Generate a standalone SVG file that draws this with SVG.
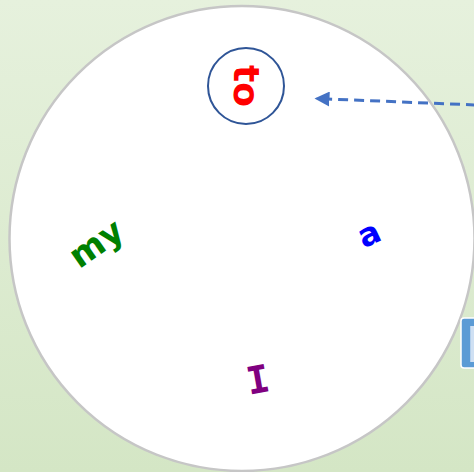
<svg xmlns="http://www.w3.org/2000/svg" width="474" height="472" viewBox="0 0 474 472">
<defs>
<linearGradient id="bg" x1="0" y1="0" x2="0" y2="1">
<stop offset="0" stop-color="#e6f1dd"/>
<stop offset="1" stop-color="#d4e6c5"/>
</linearGradient>
<marker id="ah" viewBox="0 0 10 10" refX="9" refY="5" markerWidth="5" markerHeight="5" orient="auto" markerUnits="strokeWidth">
<path d="M0,0 L10,5 L0,10 Z" fill="#4472c4"/>
</marker>
</defs>
<style>
.lbl{font-family:"DejaVu Sans","Liberation Sans",sans-serif;font-weight:bold;text-anchor:middle;dominant-baseline:central}
</style>
<rect width="474" height="472" fill="url(#bg)"/>
<g id="big-circle">
<circle cx="242" cy="238.5" r="232.5" fill="#ffffff" stroke="#c6c6c6" stroke-width="2.5"/>
</g>
<g id="side-node">
<rect x="461" y="318" width="30" height="50" rx="3" fill="#5b9bd5" stroke="#ffffff" stroke-width="1.5"/>
<text x="466" y="362" font-family="Liberation Sans,sans-serif" font-size="52" fill="#cfe0f3">N</text>
</g>
<g id="connectors">
<line x1="476" y1="105" x2="316" y2="98.5" stroke="#4472c4" stroke-width="3" stroke-dasharray="10,6" marker-end="url(#ah)"/>
</g>
<g id="node-to">
<circle cx="246" cy="86" r="38" fill="#ffffff" stroke="#2f5597" stroke-width="2"/>
<text class="lbl" x="246" y="86" font-size="36" fill="#ff0000" transform="rotate(90 246 86)">to</text>
</g>
<g id="node-my">
<text class="lbl" x="96" y="243" font-size="34" fill="#008000" transform="rotate(-35 96 243)">my</text>
</g>
<g id="node-a">
<text class="lbl" x="369" y="234" font-size="32" fill="#0000ff" transform="rotate(-25 369 234)">a</text>
</g>
<g id="node-I">
<text class="lbl" x="258" y="380" font-size="38" fill="#800080" font-family="DejaVu Sans Mono,monospace" style="font-family:'DejaVu Sans Mono',monospace" transform="rotate(-10 258 380)">I</text>
</g>
</svg>
